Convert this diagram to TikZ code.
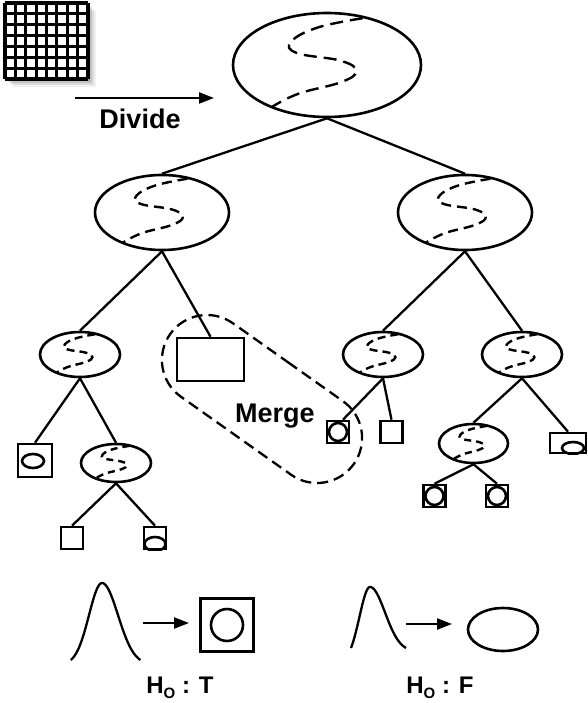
\documentclass[tikz,border=0pt]{standalone}
\usepackage{fontspec}
\setmainfont{Liberation Sans}
\usetikzlibrary{shapes.geometric,shapes.misc,arrows.meta}

% dashed S-shaped split line inside an ellipse: centre x, centre y, x radius, y radius, dash pattern
\newcommand\splitS[5]{%
  \begin{scope}[shift={(#1,#2)}, x=#3pt, y=-#4pt]
    \draw[line width=2.4pt, dash pattern=#5]
      plot[smooth, tension=0.7] coordinates {(0.38,-0.9) (-0.1,-0.72) (-0.38,-0.45) (-0.32,-0.23)
        (0.15,-0.08) (0.31,0.12) (0.15,0.33) (-0.3,0.55) (-0.58,0.8)};
  \end{scope}}

\begin{document}
\begin{tikzpicture}[x=1pt, y=-1pt, line width=2.6pt,
  ell/.style={draw, ellipse, inner sep=0pt},
  box/.style={draw, rectangle, inner sep=0pt},
  link/.style={line width=2.3pt},
  lbl/.style={font=\fontsize{27}{30}\selectfont\bfseries},
  hlbl/.style={font=\fontsize{24}{28}\selectfont\bfseries},
  arr/.style={-{Triangle[length=15pt,width=11pt]}, line width=2.3pt},
  bell/.style={line width=2.3pt, smooth}]

\useasboundingbox (0,0) rectangle (588,703);

% ---- image grid icon with soft shadow
\foreach \d/\o in {8/0.06,6/0.08,4/0.12,2/0.15}
  \fill[black, opacity=\o] (5+\d,3+\d) rectangle (88+\d,79+\d);
\fill[white] (5,3) rectangle (88,79);
\foreach \i in {0,...,8}
  \draw[line width=3.2pt] ({5+\i*10.375},3) -- ({5+\i*10.375},79);
\foreach \j in {0,...,7}
  \draw[line width=3.2pt] (5,{3+\j*10.857}) -- (88,{3+\j*10.857});

% ---- divide arrow
\coordinate (dA) at (75,98);
\coordinate (dB) at (214,98);
\draw[arr] (dA) -- (dB);
\node[lbl] (divide) at (140,119) {Divide};

% ---- tree nodes
\node[ell, minimum width=188pt, minimum height=104pt] (root) at (327,65) {};
\node[ell, minimum width=134pt, minimum height=75pt] (L) at (162,212.5) {};
\node[ell, minimum width=134pt, minimum height=75pt] (R) at (465,212.5) {};

\node[ell, minimum width=80pt, minimum height=45pt] (LL) at (80,354.5) {};
\node[box, minimum width=67pt, minimum height=43pt] (MR) at (210.5,359.5) {};
\node[ell, minimum width=80pt, minimum height=45pt] (RL) at (383,354.5) {};
\node[ell, minimum width=80pt, minimum height=45pt] (RR) at (522,354.5) {};

\node[box, minimum width=34pt, minimum height=33pt] (LLa) at (35,460.5) {};
\node[ell, minimum width=70pt, minimum height=38pt] (LLb) at (116,463) {};
\node[box, minimum size=22pt] (LLba) at (72,538) {};
\node[box, minimum size=22pt] (LLbb) at (155,538) {};

\node[box, minimum size=22pt] (RLa) at (338,432) {};
\node[box, minimum size=22pt] (RLb) at (391.5,432) {};
\node[ell, minimum width=69pt, minimum height=39pt] (RRa) at (473.5,443.5) {};
\node[box, minimum width=36pt, minimum height=20pt] (RRb) at (568,443) {};
\node[box, minimum size=22pt] (RRaa) at (434.5,496) {};
\node[box, minimum size=22pt] (RRab) at (497,496) {};

% ---- split lines inside the ellipses
\splitS{327}{65}{94}{52}{on 13pt off 7pt}
\splitS{162}{212.5}{67}{37.5}{on 10pt off 6pt}
\splitS{465}{212.5}{67}{37.5}{on 10pt off 6pt}
\splitS{80}{354.5}{40}{22.5}{on 8pt off 5pt}
\splitS{383}{354.5}{40}{22.5}{on 8pt off 5pt}
\splitS{522}{354.5}{40}{22.5}{on 8pt off 5pt}
\splitS{116}{463}{35}{19}{on 7pt off 5pt}
\splitS{473.5}{443.5}{34.5}{19.5}{on 7pt off 5pt}

% ---- leaf symbols
\draw (33,461) ellipse [x radius=11, y radius=7];
\begin{scope}
  \clip (LLbb.south west) rectangle (LLbb.north east);
  \draw (155,544) ellipse [x radius=10.5, y radius=7];
\end{scope}
\begin{scope}
  \clip (RRb.south west) rectangle (RRb.north east);
  \draw (573,448) ellipse [x radius=11, y radius=6];
\end{scope}
\draw (RLa.center) circle (9);
\draw (RRaa.center) circle (9);
\draw (RRab.center) circle (9);

% ---- tree connectors
\draw[link] (root.south) -- (L.north);
\draw[link] (root.south) -- (R.north);
\draw[link] (L.south) -- (LL.north);
\draw[link] (L.south) -- (MR.north);
\draw[link] (R.south) -- (RL.north);
\draw[link] (R.south) -- (RR.north);
\draw[link] (LL.south) -- (LLa.north);
\draw[link] (LL.south) -- (LLb.north);
\draw[link] (LLb.south) -- (LLba.north);
\draw[link] (LLb.south) -- (LLbb.north);
\draw[link] (RL.south) -- ([xshift=5pt]RLa.north);
\draw[link] (RL.south) -- (RLb.north);
\draw[link] (RR.south) -- (RRa.north);
\draw[link] (RR.south) -- (RRb.north);
\draw[link] (RRa.south) -- (RRaa.north);
\draw[link] (RRa.south) -- (RRab.north);

% ---- merge region
\node[draw, dashed, dash pattern=on 11pt off 6pt, line width=2.3pt, rounded rectangle,
      minimum width=225pt, minimum height=90pt, inner sep=0pt, rotate=-35.3] (merge) at (262,399) {};
\node[lbl, anchor=base] (mergetxt) at (275,422) {Merge};

% ---- legend: true hypothesis
\draw[bell] plot[domain=-2.4:0, samples=40] ({102+\x*13}, {583+77*(1-exp(-0.5*(\x)*(\x)))/0.9439});
\draw[bell] plot[domain=0:2.4, samples=40] ({102+\x*16}, {583+77*(1-exp(-0.5*(\x)*(\x)))/0.9439});
\coordinate (tA) at (143,623);
\coordinate (tB) at (189,623);
\draw[arr] (tA) -- (tB);
\node[box, minimum size=53pt] (LT) at (227,625) {};
\draw (LT.center) circle (16);
\node[hlbl, anchor=base] (ht) at (180,693)
  {H\raisebox{-5pt}{\fontsize{15}{15}\selectfont O} : T};

% ---- legend: false hypothesis
\draw[bell] plot[domain=-1.8:0, samples=40] ({370+\x*10.56}, {587+61*(1-exp(-0.5*(\x)*(\x)))/0.8021});
\draw[bell] plot[domain=0:2.4, samples=40] ({370+\x*15}, {587+61*(1-exp(-0.5*(\x)*(\x)))/0.9439});
\coordinate (fA) at (406,624);
\coordinate (fB) at (452,624);
\draw[arr] (fA) -- (fB);
\node[ell, minimum width=70pt, minimum height=43pt] (LF) at (503,629.5) {};
\node[hlbl, anchor=base] (hf) at (440,693)
  {H\raisebox{-5pt}{\fontsize{15}{15}\selectfont O} : F};

\end{tikzpicture}
\end{document}
